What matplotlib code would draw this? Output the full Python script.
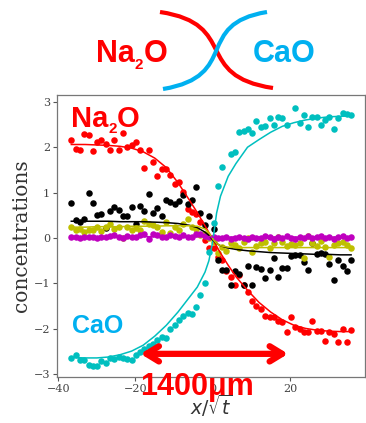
import matplotlib
matplotlib.use("Agg")
import matplotlib.pyplot as plt
import numpy as np
from matplotlib.path import Path
from matplotlib.patches import PathPatch

# ---- measured profiles -------------------------------------------------
x = [-36.6, -35.5, -34.4, -33.3, -32.1, -31.0, -29.9, -28.8, -27.7, -26.6,
     -25.5, -24.3, -23.2, -22.1, -21.0, -19.9, -18.8, -17.7, -16.5, -15.4,
     -14.3, -13.2, -12.1, -11.0, -9.8, -8.7, -7.6, -6.5, -5.4, -4.3,
     -3.2, -2.0, -0.9, 0.2, 1.3, 2.4, 3.5, 4.6, 5.8, 6.9,
     8.0, 9.1, 10.2, 11.3, 12.4, 13.6, 14.7, 15.8, 16.9, 18.0,
     19.1, 20.2, 21.3, 22.5, 23.6, 24.7, 25.8, 26.9, 28.0, 29.1,
     30.2, 31.4, 32.5, 33.6, 34.7, 35.8]

na2o = [2.16, 1.97, 1.94, 2.29, 2.27, 1.91, 2.12, 2.16, 2.08, 1.94,
        2.16, 1.94, 2.32, 2.01, 2.05, 2.11, 1.94, 1.55, 1.94, 1.68,
        1.36, 1.51, 1.51, 1.38, 1.20, 1.24, 1.02, 0.65, 0.57, 0.52,
        0.35, -0.05, -0.23, -0.23, -0.42, -0.49, -0.72, -0.86, -1.04, -0.82,
        -1.04, -1.19, -1.38, -1.49, -1.56, -1.71, -1.74, -1.73, -1.82, -1.85,
        -2.08, -1.73, -1.96, -2.00, -2.08, -2.08, -1.82, -2.04, -2.05, -2.26,
        -2.06, -2.11, -2.30, -2.00, -2.30, -2.02]

cao = [-2.65, -2.57, -2.68, -2.68, -2.79, -2.81, -2.81, -2.71, -2.75, -2.64,
       -2.66, -2.63, -2.65, -2.66, -2.68, -2.57, -2.52, -2.45, -2.38, -2.33,
       -2.24, -2.19, -2.20, -2.00, -1.91, -1.80, -1.72, -1.66, -1.68, -1.51,
       -1.25, -0.99, -0.30, 0.34, 1.15, 1.57, np.nan, 1.84, 1.90, 2.33,
       2.36, 2.40, 2.32, 2.57, 2.45, 2.47, 2.64, 2.50, 2.66, 2.64,
       2.49, np.nan, 2.86, 2.53, 2.72, 2.44, 2.67, 2.66, 2.49, 2.61,
       2.66, 2.40, 2.64, 2.76, 2.73, 2.71]

comp_k = [0.78, 0.39, 0.35, 0.43, 1.00, 0.78, 0.50, 0.54, 0.23, 0.59,
          0.68, 0.61, 0.48, 0.48, 0.68, 0.30, 0.70, 0.60, 0.96, 0.55,
          0.66, 0.48, 0.84, 0.80, 0.76, 0.82, 0.94, 0.76, 0.83, 1.12,
          0.56, 0.28, 0.48, 0.20, -0.49, -0.71, -0.71, -1.04, -0.73, -0.80,
          -1.04, -0.62, -1.04, -0.64, -0.69, -0.89, -0.70, -0.44, -0.85, -0.65,
          -0.65, -0.40, -0.38, -0.37, -0.52, -0.71, -0.12, -0.35, -0.32, -0.35,
          -0.58, -0.92, -0.48, -0.61, -0.73, -0.49]

comp_y = [0.24, 0.17, 0.20, 0.13, 0.17, 0.18, 0.24, 0.16, 0.24, 0.30,
          0.20, 0.24, -0.01, 0.24, 0.17, 0.23, 0.17, 0.38, 0.31, 0.28,
          0.24, 0.13, 0.35, 0.11, 0.24, 0.17, 0.32, 0.41, 0.24, 0.21,
          0.06, 0.10, 0.00, -0.09, -0.33, -0.20, -0.29, -0.12, -0.16, -0.23,
          -0.09, -0.01, -0.31, -0.18, -0.12, -0.09, -0.23, -0.12, 0.02, -0.09,
          -0.18, -0.14, -0.15, -0.12, -0.43, 0.04, -0.12, -0.18, -0.07, -0.20,
          -0.42, -0.15, -0.12, -0.09, -0.16, -0.22]

comp_m = [0.02, 0.02, 0.01, 0.02, 0.03, 0.02, 0.00, 0.03, 0.02, 0.04,
          0.06, 0.03, 0.01, 0.05, 0.03, 0.02, 0.06, 0.08, -0.03, 0.09,
          0.07, 0.02, 0.02, 0.07, 0.04, 0.02, 0.07, 0.03, 0.03, 0.10,
          0.08, 0.05, 0.03, 0.02, 0.00, -0.01, 0.02, -0.02, 0.01, 0.03,
          0.00, -0.02, 0.03, 0.01, -0.01, 0.04, 0.02, -0.02, 0.03, 0.00,
          0.05, 0.01, -0.02, 0.03, 0.01, 0.04, -0.01, 0.02, 0.05, 0.00,
          0.03, -0.02, 0.02, 0.04, 0.00, 0.03]

# fitted profiles
fit_x = [-36.6, -33, -30, -27, -24, -21, -18, -15, -12, -9, -6, -4, -2, -1, 0,
         1, 2, 4, 6, 9, 12, 15, 18, 21, 24, 27, 30, 33, 35.8]
fit_na2o = [2.06, 2.06, 2.05, 2.04, 2.02, 1.98, 1.90, 1.76, 1.55, 1.22, 0.83, 0.56,
            0.27, 0.12, -0.03, -0.18, -0.33, -0.60, -0.85, -1.15, -1.42, -1.63,
            -1.80, -1.92, -1.99, -2.03, -2.05, -2.06, -2.06]
fit_cao = [-2.63, -2.64, -2.64, -2.62, -2.57, -2.49, -2.36, -2.16, -1.92, -1.63,
           -1.30, -1.08, -0.75, -0.50, -0.08, 0.55, 0.92, 1.36, 1.64, 2.00, 2.17,
           2.33, 2.46, 2.54, 2.60, 2.64, 2.67, 2.68, 2.69]
fit_k = [0.37, 0.37, 0.37, 0.37, 0.36, 0.36, 0.36, 0.35, 0.34, 0.32, 0.28, 0.23,
         0.13, 0.06, -0.04, -0.12, -0.17, -0.22, -0.25, -0.28, -0.30, -0.32,
         -0.33, -0.34, -0.35, -0.36, -0.36, -0.37, -0.37]
fit_y = [0.24, 0.24, 0.25, 0.25, 0.25, 0.26, 0.26, 0.26, 0.27, 0.27, 0.27, 0.26,
         0.20, 0.12, -0.02, -0.12, -0.17, -0.20, -0.21, -0.21, -0.21, -0.21,
         -0.21, -0.21, -0.21, -0.21, -0.21, -0.21, -0.21]
fit_m = [0.03, 0.03, 0.03, 0.03, 0.03, 0.03, 0.03, 0.03, 0.03, 0.03, 0.03, 0.03,
         0.03, 0.03, 0.02, 0.02, 0.02, 0.02, 0.02, 0.02, 0.02, 0.02, 0.02, 0.02,
         0.02, 0.02, 0.02, 0.02, 0.02]

x_ticks = [-40, -20, 0, 20]
y_ticks = [-3, -2, -1, 0, 1, 2, 3]

RED = "#ff0000"
BLUE = "#00b0f0"
W, H = 366, 423

fig = plt.figure(figsize=(W / 100, H / 100), dpi=100)
ax = fig.add_axes([57 / W, 1 - 377 / H, (365 - 57) / W, (377 - 95) / H])

series = [(na2o, fit_na2o, "r"), (cao, fit_cao, "c"), (comp_k, fit_k, "k"),
          (comp_y, fit_y, "y"), (comp_m, fit_m, "m")]
for vals, _, col in series:
    ax.scatter(x, vals, s=22, c=col, linewidths=0, zorder=2)
for _, fit, col in series:
    ax.plot(fit_x, fit, color=col, lw=1.1, zorder=3)

ax.set_xlim(-40.3, 39.4)
ax.set_ylim(-3.06, 3.15)
ax.set_xticks(x_ticks)
ax.set_yticks(y_ticks)
for sp in ax.spines.values():
    sp.set_color("#777777")
    sp.set_linewidth(0.9)
ax.tick_params(length=3, width=0.8, color="#555555", labelsize=8,
               labelcolor="#444444", pad=2)
for lab in ax.get_xticklabels() + ax.get_yticklabels():
    lab.set_family("DejaVu Serif")
ax.set_ylabel("concentrations", family="DejaVu Serif", fontsize=14.5,
              color="#333333", labelpad=2)
ax.set_xlabel(r"$x/\sqrt{t}$", fontsize=13.5, color="#333333", labelpad=-1)

# width of the interdiffusion zone
ax.annotate("", xy=(-18.7, -2.55), xytext=(19.5, -2.55),
            arrowprops=dict(arrowstyle="<->,head_length=0.9,head_width=0.55",
                            color=RED, lw=4.5, shrinkA=0, shrinkB=0),
            zorder=5)
fig.text(196.5 / W, 1 - 387 / H, "1400μm", color=RED, fontsize=22,
         fontweight="bold", family="Liberation Sans", ha="center",
         va="center", zorder=6)

renderer = fig.canvas.get_renderer()


def formula(x0, base, pieces, color):
    cur = x0
    for s, size, drop in pieces:
        t = fig.text(cur / W, 1 - (base + drop) / H, s, fontsize=size,
                     fontweight="bold", family="Liberation Sans", color=color,
                     ha="left", va="baseline", zorder=6)
        cur += t.get_window_extent(renderer).width


formula(96, 61.7, [("Na", 22, 0), ("2", 11, 7.6), ("O", 22, 0)], RED)
formula(253, 62, [("CaO", 22, 0)], BLUE)
formula(70.7, 126.7, [("Na", 21, 0), ("2", 11, 6.6), ("O", 21, 0)], RED)
formula(71.7, 332.7, [("CaO", 18, 0)], BLUE)


# crossing diffusion fronts in the header
def front(p0, p1, p2, p3, color):
    pts = [(px / W, 1 - py / H) for px, py in (p0, p1, p2, p3)]
    path = Path(pts, [Path.MOVETO, Path.CURVE4, Path.CURVE4, Path.CURVE4])
    fig.patches.append(PathPatch(path, facecolor="none", edgecolor=color,
                                 lw=3.0, transform=fig.transFigure,
                                 capstyle="butt"))


front((160, 12), (240, 24), (192, 76), (273, 88), RED)
front((163, 89), (241, 76), (193, 24), (267, 12), BLUE)

fig.savefig("out.png", dpi=100)
